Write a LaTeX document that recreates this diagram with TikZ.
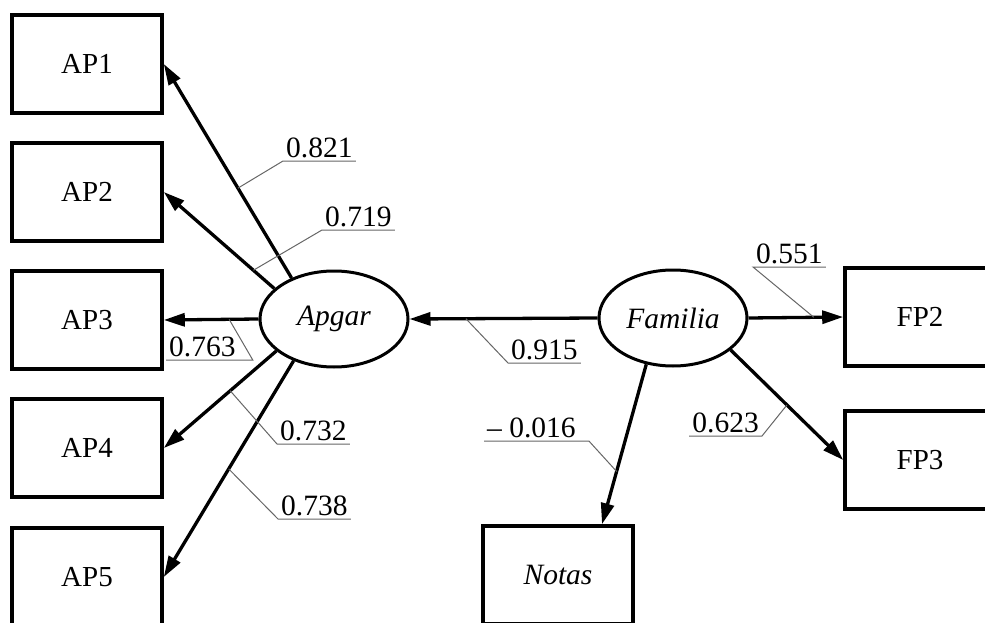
\documentclass[tikz,border=0pt]{standalone}
\usepackage{fontspec}
\setmainfont{Liberation Serif}
\usetikzlibrary{arrows.meta,shapes.geometric}

\begin{document}
\begin{tikzpicture}[x=1pt, y=-1pt,
	box/.style={draw, line width=3.6pt, minimum width=150pt, minimum height=98pt, inner sep=0pt, font=\fontsize{29}{32}\selectfont},
	latent/.style={draw, ellipse, line width=3pt, minimum width=148pt, minimum height=96pt, inner sep=0pt, font=\fontsize{29.5}{33}\selectfont\itshape},
	arr/.style={line width=3.3pt, -{Triangle[length=21pt,width=13pt]}},
	coef/.style={inner xsep=3pt, inner ysep=3pt, font=\fontsize{29.5}{33}\selectfont},
	leader/.style={draw=black!60, line width=1pt}]

	\useasboundingbox (0,0) rectangle (985,623);
	\clip (0,0) rectangle (985,623);

	% Draw the indicator boxes
	\node[box] (AP1) at (87,64) {AP1};
	\node[box] (AP2) at (87,192) {AP2};
	\node[box] (AP3) at (87,320) {AP3};
	\node[box] (AP4) at (87,448) {AP4};
	\node[box] (AP5) at (87,577) {AP5};
	\node[box] (FP2) at (920,317) {FP2};
	\node[box] (FP3) at (920,460) {FP3};
	\node[box, font=\fontsize{29.5}{33}\selectfont\itshape] (Notas) at (558,575) {Notas};

	% Draw the latent variables
	\node[latent] (Apgar) at (334,319) {Apgar};
	\node[latent] (Familia) at (673,318) {Familia};

	% Draw the paths
	\draw[arr] (Apgar.136) -- (AP1.east) coordinate[pos=0.42] (c1);
	\draw[arr] (Apgar.153) -- (AP2.east) coordinate[pos=0.19] (c2);
	\draw[arr] (Apgar.west) -- (AP3.east) coordinate[pos=0.31] (c3);
	\draw[arr] (Apgar.209) -- (AP4.east) coordinate[pos=0.41] (c4);
	\draw[arr] (Apgar.226) -- (AP5.east) coordinate[pos=0.50] (c5);
	\draw[arr] (Familia.west) -- (Apgar.east) coordinate[pos=0.70] (c6);
	\draw[arr] (Familia.east) -- (FP2.west) coordinate[pos=0.69] (c7);
	\draw[arr] (Familia.240) -- ([xshift=44pt]Notas.north) coordinate[pos=0.67] (c8);
	\draw[arr] (Familia.331) -- (FP3.west) coordinate[pos=0.50] (c9);

	% Label the loadings
	\node[coef, anchor=south west] (l1) at (283,161) {0.821};
	\node[coef, anchor=south west] (l2) at (322,230) {0.719};
	\node[coef, anchor=south west] (l3) at (166,360) {0.763};
	\node[coef, anchor=south west] (l4) at (277,444) {0.732};
	\node[coef, anchor=south west] (l5) at (278,519) {0.738};
	\node[coef, anchor=south west] (l6) at (508,363) {0.915};
	\node[coef, anchor=south west] (l7) at (753,267) {0.551};
	\node[coef, anchor=south west] (l8) at (484,441) {– 0.016};
	\node[coef, anchor=south east] (l9) at (762,436) {0.623};

	% Draw the leaders
	\draw[leader] (c1) -- (l1.south west) -- (l1.south east);
	\draw[leader] (c2) -- (l2.south west) -- (l2.south east);
	\draw[leader] (c3) -- ([xshift=14pt]l3.south east) -- (l3.south west);
	\draw[leader] (c4) -- (l4.south west) -- (l4.south east);
	\draw[leader] (c5) -- (l5.south west) -- (l5.south east);
	\draw[leader] (c6) -- (l6.south west) -- (l6.south east);
	\draw[leader] (c7) -- (l7.south west) -- (l7.south east);
	\draw[leader] (c8) -- ([xshift=10pt]l8.south east) -- (l8.south west);
	\draw[leader] (c9) -- (l9.south east) -- (l9.south west);
\end{tikzpicture}
\end{document}
